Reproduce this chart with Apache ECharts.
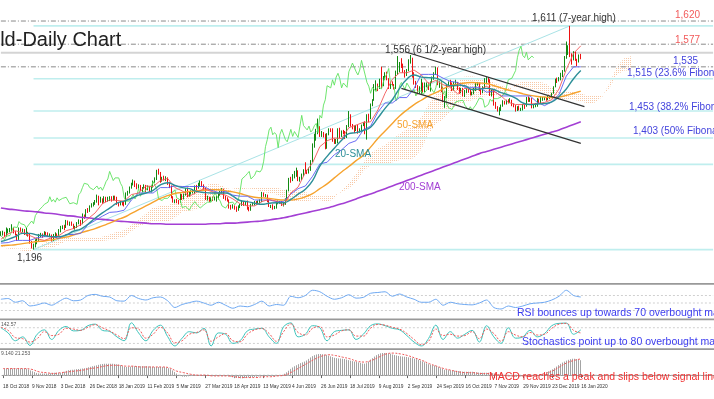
<!DOCTYPE html>
<html>
<head>
<meta charset="utf-8">
<script src="https://cdn.jsdelivr.net/npm/echarts@6/dist/echarts.min.js"></script>
<style>
  html, body { margin: 0; padding: 0; background: #fff; }
  #chart { width: 714px; height: 399px; }
</style>
</head>
<body>
<div id="chart"></div>
<script>
// bar 0 = 18 Oct 2018, bar 320 = 16 Jan 2020; extra slots on the right for the forward cloud
var categoryCount = 394;
var sampleStep = 4; // indicator lines every 4 bars

var tickBars = [0, 16, 32, 48, 64, 80, 96, 112, 128, 144, 160, 176, 192, 208, 224, 240, 256, 272, 288, 304, 320];
var tickLabels = ["18 Oct 2018", "9 Nov 2018", "3 Dec 2018", "26 Dec 2018", "18 Jan 2019", "11 Feb 2019",
  "5 Mar 2019", "27 Mar 2019", "18 Apr 2019", "13 May 2019", "4 Jun 2019", "26 Jun 2019", "18 Jul 2019",
  "9 Aug 2019", "2 Sep 2019", "24 Sep 2019", "16 Oct 2019", "7 Nov 2019", "29 Nov 2019", "23 Dec 2019", "16 Jan 2020"];

// daily candles [open, close, low, high]
var candles = [
  [1225,1226,1221,1230],[1226,1227,1222,1231],[1227,1221,1219,1229],[1221,1231,1220,1237],[1231,1232,1226,1235],
  [1232,1232,1228,1236],[1232,1235,1230,1243],[1235,1228,1226,1237],[1228,1223,1222,1230],[1223,1215,1212,1225],
  [1215,1233,1214,1237],[1233,1232,1229,1237],[1232,1232,1228,1235],[1232,1226,1223,1234],[1226,1227,1222,1236],
  [1227,1224,1220,1229],[1224,1210,1207,1225],[1210,1201,1198,1212],[1201,1202,1196,1207],[1202,1210,1200,1215],
  [1210,1214,1206,1218],[1214,1222,1212,1225],[1222,1223,1219,1227],[1223,1222,1218,1226],[1222,1227,1220,1230],
  [1227,1226,1223,1229],[1226,1222,1220,1228],[1222,1222,1219,1226],[1222,1214,1211,1224],[1214,1221,1212,1225],
  [1221,1224,1218,1228],[1224,1222,1218,1226],[1222,1231,1220,1234],[1231,1238,1228,1240],[1238,1238,1234,1241],
  [1238,1237,1232,1242],[1237,1248,1236,1251],[1248,1244,1241,1250],[1244,1245,1240,1248],[1245,1242,1240,1248],
  [1242,1236,1234,1244],[1236,1238,1233,1240],[1238,1245,1236,1247],[1245,1249,1243,1252],[1249,1244,1240,1251],
  [1244,1259,1243,1263],[1259,1257,1253,1261],[1257,1269,1255,1271],[1269,1268,1264,1273],[1268,1276,1266,1278],
  [1276,1280,1274,1282],[1280,1282,1276,1284],[1282,1284,1279,1288],[1284,1294,1283,1298],[1294,1285,1278,1296],
  [1285,1289,1283,1294],[1289,1284,1281,1291],[1284,1292,1283,1295],[1292,1287,1284,1294],[1287,1290,1285,1294],
  [1290,1291,1286,1295],[1291,1289,1285,1295],[1289,1293,1287,1296],[1293,1292,1288,1296],[1292,1281,1279,1294],
  [1281,1280,1276,1284],[1280,1283,1278,1286],[1283,1281,1278,1285],[1281,1280,1276,1285],[1280,1298,1279,1302],
  [1298,1302,1296,1305],[1302,1311,1300,1313],[1311,1319,1309,1320],[1319,1321,1315,1326],[1321,1317,1312,1324],
  [1317,1311,1308,1319],[1311,1314,1309,1317],[1314,1307,1305,1316],[1307,1310,1303,1312],[1310,1314,1308,1317],
  [1314,1308,1303,1316],[1308,1312,1306,1315],[1312,1306,1303,1314],[1306,1313,1302,1315],[1313,1322,1311,1324],
  [1322,1327,1320,1330],[1327,1341,1325,1344],[1341,1338,1335,1346],[1338,1324,1320,1340],[1324,1329,1322,1331],
  [1329,1328,1324,1333],[1328,1329,1323,1332],[1329,1319,1316,1330],[1319,1313,1310,1321],[1313,1293,1291,1315],
  [1293,1286,1283,1295],[1286,1287,1282,1289],[1287,1286,1282,1290],[1286,1285,1280,1288],[1285,1298,1283,1300],
  [1298,1290,1288,1299],[1290,1297,1289,1300],[1297,1309,1296,1310],[1309,1295,1293,1311],[1295,1302,1294,1304],
  [1302,1302,1298,1306],[1302,1306,1300,1308],[1306,1312,1299,1315],[1312,1311,1306,1316],[1311,1313,1309,1320],
  [1313,1322,1312,1324],[1322,1315,1312,1323],[1315,1309,1307,1317],[1309,1290,1288,1311],[1290,1292,1287,1296],
  [1292,1287,1284,1294],[1287,1291,1285,1293],[1291,1290,1286,1294],[1290,1291,1287,1294],[1291,1291,1285,1296],
  [1291,1298,1289,1301],[1298,1303,1296,1305],[1303,1307,1300,1310],[1307,1292,1290,1309],[1292,1290,1287,1296],
  [1290,1288,1285,1293],[1288,1274,1272,1289],[1274,1273,1270,1279],[1273,1276,1272,1280],[1276,1274,1270,1278],
  [1274,1269,1266,1276],[1269,1276,1268,1278],[1276,1279,1273,1281],[1279,1285,1277,1288],[1285,1280,1277,1286],
  [1280,1283,1278,1286],[1283,1273,1270,1287],[1273,1270,1267,1275],[1270,1279,1268,1281],[1279,1281,1277,1284],
  [1281,1284,1278,1286],[1284,1281,1279,1286],[1281,1284,1280,1287],[1284,1285,1281,1289],[1285,1301,1284,1303],
  [1301,1296,1294,1302],[1296,1297,1293,1299],[1297,1286,1284,1298],[1286,1277,1275,1288],[1277,1277,1273,1279],
  [1277,1273,1270,1280],[1273,1274,1271,1277],[1274,1283,1272,1286],[1283,1284,1280,1287],[1284,1284,1281,1286],
  [1284,1279,1277,1286],[1279,1280,1276,1283],[1280,1288,1279,1291],[1288,1305,1287,1307],[1305,1327,1304,1329],
  [1327,1325,1320,1331],[1325,1333,1323,1336],[1333,1337,1328,1342],[1337,1341,1331,1348],[1341,1327,1323,1343],
  [1327,1327,1322,1331],[1327,1334,1325,1337],[1334,1342,1332,1345],[1342,1341,1337,1358],[1341,1340,1336,1344],
  [1340,1345,1337,1348],[1345,1360,1342,1362],[1360,1387,1358,1393],[1387,1400,1385,1411],[1400,1418,1398,1420],
  [1418,1423,1410,1439],[1423,1409,1405,1425],[1409,1413,1405,1416],[1413,1409,1404,1414],[1409,1385,1382,1411],
  [1385,1410,1383,1412],[1410,1419,1408,1421],[1419,1418,1414,1421],[1418,1400,1396,1421],[1400,1396,1392,1402],
  [1396,1397,1392,1401],[1397,1419,1393,1421],[1419,1406,1403,1422],[1406,1415,1405,1417],[1415,1414,1410,1418],
  [1414,1404,1401,1416],[1404,1425,1403,1427],[1425,1445,1423,1453],[1445,1426,1424,1447],[1426,1424,1419,1429],
  [1424,1418,1412,1426],[1418,1425,1416,1427],[1425,1414,1411,1427],[1414,1418,1413,1421],[1418,1426,1416,1428],
  [1426,1430,1425,1432],[1430,1413,1410,1434],[1413,1445,1400,1447],[1445,1440,1432,1448],[1440,1464,1438,1467],
  [1464,1474,1462,1475],[1474,1500,1472,1503],[1500,1500,1491,1510],[1500,1496,1490,1504],[1496,1511,1494,1513],
  [1511,1501,1495,1535],[1501,1516,1499,1518],[1516,1523,1511,1525],[1523,1513,1510,1526],[1513,1496,1494,1514],
  [1496,1505,1494,1507],[1505,1502,1499,1508],[1502,1497,1493,1503],[1497,1526,1494,1528],[1526,1527,1520,1555],
  [1527,1542,1525,1544],[1542,1539,1533,1551],[1539,1526,1524,1541],[1526,1520,1515,1529],[1520,1529,1518,1531],
  [1529,1547,1527,1549],[1547,1549,1541,1557],[1549,1520,1515,1552],[1520,1506,1502,1525],[1506,1499,1496,1509],
  [1499,1486,1484,1501],[1486,1497,1485,1499],[1497,1499,1485,1513],[1499,1489,1487,1506],[1489,1499,1488,1506],
  [1499,1502,1497,1506],[1502,1494,1492,1506],[1494,1506,1489,1508],[1506,1516,1505,1517],[1516,1522,1511,1525],
  [1522,1532,1520,1535],[1532,1504,1501,1534],[1504,1505,1496,1508],[1505,1497,1488,1510],[1497,1472,1470,1498],
  [1472,1479,1459,1481],[1479,1500,1477,1502],[1500,1506,1498,1508],[1506,1504,1501,1511],[1504,1493,1490,1506],
  [1493,1505,1491,1507],[1505,1505,1499,1511],[1505,1494,1492,1507],[1494,1488,1485,1497],[1488,1493,1486,1496],
  [1493,1481,1480,1496],[1481,1490,1479,1492],[1490,1491,1486,1495],[1491,1490,1487,1494],[1490,1484,1482,1493],
  [1484,1487,1482,1489],[1487,1492,1484,1496],[1492,1504,1490,1505],[1504,1505,1500,1507],[1505,1492,1490,1506],
  [1492,1487,1483,1494],[1487,1496,1486,1499],[1496,1513,1494,1514],[1513,1514,1504,1516],[1514,1510,1506,1516],
  [1510,1484,1481,1512],[1484,1490,1480,1492],[1490,1466,1463,1493],[1466,1459,1457,1470],[1459,1456,1452,1462],
  [1456,1456,1445,1460],[1456,1463,1453,1465],[1463,1470,1461,1473],[1470,1468,1465,1472],[1468,1472,1465,1474],
  [1472,1471,1467,1475],[1471,1473,1468,1477],[1473,1464,1462,1474],[1464,1462,1460,1467],[1462,1455,1452,1464],
  [1455,1461,1453,1462],[1461,1455,1454,1463],[1455,1456,1453,1459],[1456,1464,1454,1466],[1464,1463,1457,1465],
  [1463,1477,1461,1479],[1477,1474,1470,1480],[1474,1475,1470,1478],[1475,1460,1458,1477],[1460,1462,1458,1465],
  [1462,1465,1460,1468],[1465,1475,1461,1477],[1475,1471,1466,1476],[1471,1476,1466,1480],[1476,1476,1472,1479],
  [1476,1476,1473,1479],[1476,1475,1472,1478],[1475,1479,1473,1481],[1479,1478,1475,1481],[1478,1486,1477,1487],
  [1486,1498,1485,1499],[1498,1511,1497,1513],[1511,1510,1505,1515],[1510,1514,1508,1516],[1514,1517,1510,1524],
  [1517,1528,1516,1529],[1528,1552,1526,1555],[1552,1566,1550,1582],[1566,1573,1557,1575],[1573,1556,1553,1611],
  [1556,1552,1539,1560],[1552,1562,1547,1564],[1562,1548,1546,1563],[1548,1545,1536,1550],[1545,1555,1543,1558],
  [1555,1552,1549,1559]
];

// moving averages, every 4 bars
var sma20 = [1211,1215,1220,1226,1226,1223,1222,1220,1220,1223,1230,1234,1243,1254,1264,1273,1282,1286,1291,1297,
  1301,1306,1316,1320,1315,1311,1309,1304,1302,1301,1301,1301,1295,1287,1285,1282,1280,1282,1283,1283,
  1289,1299,1308,1324,1351,1369,1384,1399,1411,1413,1417,1423,1440,1458,1474,1495,1512,1520,1516,1515,
  1514,1507,1500,1501,1500,1493,1494,1495,1493,1487,1483,1477,1468,1465,1466,1467,1470,1480,1494,1513,1528];
var sma50 = [1203,1204,1205,1207,1209,1211,1212,1214,1217,1219,1223,1227,1231,1235,1240,1245,1251,1256,1263,1270,
  1277,1284,1291,1296,1300,1302,1304,1305,1306,1307,1307,1305,1303,1300,1296,1293,1292,1291,1289,1288,
  1288,1290,1294,1300,1309,1318,1329,1340,1350,1361,1371,1386,1402,1416,1430,1444,1455,1465,1473,1481,
  1487,1494,1500,1503,1505,1506,1505,1504,1500,1496,1492,1489,1485,1482,1480,1479,1478,1479,1482,1486,1490];
var sma200 = [1273,1271,1270,1268,1267,1266,1264,1263,1261,1259,1258,1256,1255,1253,1252,1251,1249,1248,1247,1246,
  1245,1244,1244,1243,1243,1243,1243,1243,1243,1244,1244,1245,1245,1246,1247,1248,1249,1251,1253,1255,
  1258,1261,1264,1267,1270,1273,1277,1281,1285,1290,1295,1299,1304,1309,1314,1319,1324,1329,1334,1339,
  1344,1349,1354,1359,1364,1369,1374,1378,1382,1386,1390,1394,1398,1402,1406,1410,1414,1418,1423,1428,1433];

// Ichimoku, every 4 bars
var tenkan = [1215,1225,1231,1227,1222,1216,1213,1218,1222,1231,1235,1242,1253,1264,1281,1288,1287,1286,1298,1301,
  1314,1313,1324,1328,1311,1305,1295,1302,1309,1304,1300,1297,1290,1281,1277,1277,1285,1289,1286,1278,
  1301,1312,1339,1357,1387,1398,1403,1402,1422,1427,1432,1433,1455,1486,1512,1524,1524,1529,1520,1504,
  1510,1502,1497,1485,1495,1493,1493,1499,1490,1481,1469,1465,1465,1466,1467,1469,1474,1494,1530,1560,1574];
var kijun = [1208,1209,1213,1213,1213,1218,1220,1220,1217,1224,1224,1226,1242,1250,1258,1265,1266,1269,1288,1301,
  1301,1301,1311,1311,1314,1313,1313,1313,1313,1306,1302,1304,1297,1295,1295,1288,1288,1288,1285,1285,
  1299,1309,1314,1332,1355,1358,1372,1381,1393,1398,1418,1425,1451,1468,1468,1478,1478,1495,1521,1521,
  1521,1514,1508,1506,1497,1497,1497,1488,1490,1481,1481,1481,1481,1481,1469,1463,1470,1484,1518,1535,1535];
// cloud edges as drawn (already shifted 26 bars forward), bars 0..348
var spanA = [1200,1198,1196,1194,1192,1200,1208,1214,1220,1221,1219,1217,1217,1218,1220,1224,1229,1232,1241,1252,
  1263,1274,1277,1277,1285,1297,1305,1307,1313,1319,1317,1311,1306,1306,1310,1308,1303,1301,1298,1291,
  1287,1285,1285,1288,1288,1284,1291,1306,1319,1336,1358,1375,1383,1390,1400,1411,1419,1427,1441,1465,
  1484,1496,1501,1507,1517,1517,1515,1512,1506,1500,1496,1496,1495,1495,1492,1486,1478,1474,1473,1474,
  1471,1467,1469,1480,1506,1536,1551,1555];
var spanB = [1203,1200,1198,1198,1198,1198,1198,1199,1205,1212,1212,1212,1212,1212,1212,1214,1216,1220,1230,1239,
  1245,1247,1247,1247,1255,1266,1268,1270,1282,1290,1292,1299,1309,1312,1311,1311,1311,1312,1311,1307,
  1306,1306,1303,1297,1295,1295,1297,1303,1310,1321,1342,1353,1353,1353,1358,1362,1362,1366,1382,1411,
  1429,1438,1452,1464,1470,1473,1477,1482,1482,1479,1489,1503,1508,1508,1508,1505,1496,1490,1490,1490,
  1486,1481,1481,1481,1497,1521,1528,1528];
var chikouShift = 26;

// oscillators, every 4 bars
var rsi = [60,62,52,56,42,45,50,44,54,63,56,58,70,73,68,66,56,55,70,62,
  58,64,66,56,38,46,51,55,50,44,52,44,36,42,40,46,55,42,46,44,
  68,64,70,84,80,68,60,64,72,63,65,76,78,80,68,74,66,60,52,52,
  60,44,52,48,46,45,50,58,38,34,42,38,42,48,50,52,58,68,84,70,66];
var stochK = [80,60,30,45,12,55,72,35,70,85,68,70,88,94,70,66,45,30,99,60,
  30,70,90,46,10,40,65,60,78,10,60,55,20,30,68,75,78,45,20,84,
  99,45,55,88,80,30,65,70,72,35,55,88,95,88,78,72,50,25,10,39,
  90,35,65,40,55,70,25,88,45,20,80,40,45,70,45,58,88,97,98,55,72];
var stochD = [82,70,42,38,25,38,65,50,55,78,75,70,82,92,80,68,52,38,80,75,
  40,55,82,60,22,30,55,62,72,28,45,58,30,26,55,72,77,58,28,65,
  95,62,52,78,85,45,52,68,72,48,48,78,93,90,82,75,58,35,15,28,
  75,50,55,48,50,65,38,75,58,28,65,52,45,62,52,55,78,94,97,70,60];
var macd = [8,8,8,8,5,2,2,3,3,6,7,8,10,12,14,14,13,10,11,11,
  11,10,10,8,2,-2,-1,0,0,-1,-1,-1,-3,-4,-3,-2,-1,-1,-1,2,
  9,14,18,24,26,24,21,20,18,16,14,20,26,27,25,23,22,20,17,13,
  11,7,6,5,4,4,3,3,2,-1,-1,-2,-1,-1,0,3,7,13,18,20,18];
var macdSignal = [8,8,8,8,7,4,3,2,3,4,5,6,8,9,11,12,12,11,11,10,
  10,10,10,9,5,3,1,0,0,-1,-1,-1,-2,-3,-3,-3,-2,-2,-1,0,
  4,9,14,19,23,25,24,22,20,17,16,18,22,26,27,26,24,21,18,14,
  11,8,6,4,3,3,2,2,1,0,-1,-1,-1,-1,0,2,5,10,15,18,20];

// drawn levels and trend lines
var dashLevels = [1620, 1577, 1535];
var priceLevel = 1561;
var fiboLevels = [1611, 1513, 1453, 1403, 1354, 1196];
var fiboStartBar = 18;
var fiboDiagonal = [[18, 1196], [314, 1611]];
var channelUpper = [[223, 1563], [322, 1461]];
var channelLower = [[221, 1495], [320, 1393]];
var rsiLevels = [70, 50, 30];
var stochLevels = [80, 20];

var FONT = "Liberation Sans, Arial, sans-serif";

function sampled(arr) {
  return arr.map(function (v, i) { return [i * sampleStep, v]; });
}
function makePattern(w, h, color, dots) {
  var c = document.createElement("canvas");
  c.width = w; c.height = h;
  var ctx = c.getContext("2d");
  ctx.fillStyle = color;
  dots.forEach(function (d) { ctx.fillRect(d[0], d[1], d[2], d[3]); });
  return c;
}

var cloudDots = makePattern(2, 2, "#f7c8a6", [[0, 0, 1, 1]]);
var macdStripes = makePattern(2, 1, "#a4a4a4", [[0, 0, 1, 1]]);

var categories = [];
for (var i = 0; i < categoryCount; i++) categories.push(String(i));
var labelMap = {};
tickBars.forEach(function (b, k) { labelMap[b] = tickLabels[k]; });

function xAxisFor(gridIndex, showLabels) {
  return {
    type: "category", gridIndex: gridIndex, data: categories, boundaryGap: true,
    axisLine: { show: showLabels, lineStyle: { color: "#9a9a9a", width: 1 } },
    axisTick: {
      show: showLabels, alignWithLabel: true, length: 3, lineStyle: { color: "#666" },
      interval: function (idx) { return labelMap[idx] !== undefined; }
    },
    axisLabel: {
      show: showLabels, align: "left", fontSize: 4.8, color: "#333", margin: 4, fontFamily: FONT,
      interval: function (idx) { return labelMap[idx] !== undefined; },
      formatter: function (v) { return labelMap[v] || ""; }
    },
    splitLine: { show: false }
  };
}
function yAxisFor(gridIndex, min, max) {
  return { type: "value", gridIndex: gridIndex, min: min, max: max, show: false, splitLine: { show: false } };
}
function straight(name, points, color, width, type, xi, yi, z) {
  return {
    name: name, type: "line", xAxisIndex: xi, yAxisIndex: yi, data: points, symbol: "none", silent: true,
    lineStyle: { color: color, width: width, type: type || "solid" }, z: z || 2, animation: false
  };
}
function curve(name, data, color, width, xi, yi, extra) {
  var s = {
    name: name, type: "line", xAxisIndex: xi, yAxisIndex: yi, data: data, symbol: "none", silent: true,
    lineStyle: { color: color, width: width }, z: 4
  };
  for (var k in extra) s[k] = extra[k];
  return s;
}

var series = [];

// Ichimoku cloud
series.push({
  type: "custom", xAxisIndex: 0, yAxisIndex: 0, silent: true, z: 1,
  data: [[0, spanA[0]]],
  renderItem: function (params, api) {
    var pts = [];
    spanA.forEach(function (v, i) { pts.push(api.coord([i * sampleStep, v])); });
    for (var i = spanB.length - 1; i >= 0; i--) pts.push(api.coord([i * sampleStep, spanB[i]]));
    return { type: "polygon", shape: { points: pts }, style: { fill: { image: cloudDots, repeat: "repeat" }, stroke: null } };
  }
});

// horizontal levels
fiboLevels.forEach(function (v) {
  series.push(straight("fibo", [[fiboStartBar, v], [categoryCount - 1, v]], "#bfeeee", 1.6, "solid", 0, 0, 1));
});
dashLevels.forEach(function (v) {
  series.push(straight("level", [[0, v], [categoryCount - 1, v]], "#8a8a8a", 1, [5, 2, 1, 2], 0, 0, 1));
});
series.push(straight("price", [[0, priceLevel], [categoryCount - 1, priceLevel]], "#d4d4d4", 2, "solid", 0, 0, 1));
series.push(straight("fiboDiag", fiboDiagonal, "#a9e3e6", 1, "solid", 0, 0, 1));

// candles
series.push({
  name: "Gold", type: "candlestick", xAxisIndex: 0, yAxisIndex: 0, data: candles, barWidth: 1.2, silent: true, z: 3,
  itemStyle: { color: "#128a12", color0: "#ee1111", borderColor: "#128a12", borderColor0: "#ee1111", borderWidth: 1 }
});

// chikou span: the closes drawn 26 bars back
var chikou = [];
candles.forEach(function (c, i) { if (i >= chikouShift) chikou.push([i - chikouShift, c[1]]); });
series.push(curve("chikou", chikou, "#5ee25e", 0.9, 0, 0));

series.push(curve("200-SMA", sampled(sma200), "#a33fd4", 1.6, 0, 0, { smooth: true }));
series.push(curve("50-SMA", sampled(sma50), "#f6a32e", 1.4, 0, 0, { smooth: true }));
series.push(curve("kijun", sampled(kijun), "#5a5cf2", 0.9, 0, 0));
series.push(curve("tenkan", sampled(tenkan), "#f25858", 0.9, 0, 0));
series.push(curve("20-SMA", sampled(sma20), "#2d8f98", 1.4, 0, 0, { smooth: true }));

series.push(straight("channelUp", channelUpper, "#333", 1.3, "solid", 0, 0, 5));
series.push(straight("channelDown", channelLower, "#333", 1.3, "solid", 0, 0, 5));

// RSI panel
rsiLevels.forEach(function (v) {
  series.push(straight("rsiLevel", [[0, v], [categoryCount - 1, v]], "#c4c4c4", 0.8, [2, 2], 1, 1, 1));
});
series.push(curve("RSI", sampled(rsi), "#6fa9f2", 1, 1, 1, { smooth: 0.3 }));

// Stochastics panel
stochLevels.forEach(function (v) {
  series.push(straight("stochLevel", [[0, v], [categoryCount - 1, v]], "#c4c4c4", 0.8, [2, 2], 2, 2, 1));
});
series.push(curve("%K", sampled(stochK), "#3cc3bb", 1, 2, 2, { smooth: 0.4 }));
series.push(curve("%D", sampled(stochD), "#f05a5a", 1, 2, 2, { smooth: 0.4, lineStyle: { color: "#f05a5a", width: 1, type: [2, 1.5] } }));

// MACD panel
series.push(straight("macdZero", [[0, 0], [categoryCount - 1, 0]], "#c4c4c4", 0.8, [2, 2], 3, 3, 1));
series.push(curve("MACD", sampled(macd), "#b0b0b0", 0, 3, 3, {
  smooth: 0.4, areaStyle: { color: { image: macdStripes, repeat: "repeat" }, opacity: 1 }
}));
series.push(curve("Signal", sampled(macdSignal), "#f05a5a", 1, 3, 3, { smooth: 0.4, lineStyle: { color: "#f05a5a", width: 1, type: [2, 1.5] } }));

function txt(text, x, y, color, size, extra) {
  var t = { type: "text", x: x, y: y, silent: true, z: 50,
    style: { text: text, fill: color, fontSize: size, fontFamily: FONT, verticalAlign: "middle", align: "left" } };
  for (var k in extra) t.style[k] = extra[k];
  return t;
}
function bar(y, h) {
  return { type: "rect", shape: { x: 0, y: y, width: 714, height: h }, style: { fill: "#999" }, silent: true, z: 40 };
}

var graphics = [
  bar(283, 1.8), bar(318.5, 1.8), bar(348.3, 1.8),
  txt("Gold-Daily Chart", -26.5, 40.5, "#222", 20),
  txt("1,620", 675, 15.5, "#f25a5a", 10),
  txt("1,611 (7-year high)", 532, 18.5, "#333", 10),
  txt("1,577", 675, 40.5, "#f25a5a", 10),
  txt("1,556 (6 1/2-year high)", 385, 50, "#333", 10),
  txt("1,535", 673, 61.5, "#4444dd", 10),
  txt("1,515 (23.6% Fibonacci)", 627, 73.5, "#4444dd", 10),
  txt("1,453 (38.2% Fibonacci)", 629, 107.5, "#4444dd", 10),
  txt("1,403 (50% Fibonacci)", 633, 131.5, "#4444dd", 10),
  txt("50-SMA", 397, 125, "#f6a32e", 10),
  txt("20-SMA", 335, 154, "#2d8f98", 10),
  txt("200-SMA", 399, 187, "#a33fd4", 10),
  txt("1,196", 17, 258, "#333", 10),
  txt("RSI bounces up towards 70 overbought mark", 517, 313.5, "#3c3cf0", 10.5),
  txt("Stochastics point up to 80 overbought mark", 522, 342.5, "#3c3cf0", 10.5),
  txt("MACD reaches a peak and slips below signal line", 489, 377.5, "#f03030", 10.5),
  txt("142.57", 1, 324.5, "#555", 5),
  txt("9.140 21.253", 1, 354, "#555", 5)
];

var option = {
  animation: false,
  backgroundColor: "#fff",
  textStyle: { fontFamily: FONT },
  grid: [
    { left: -5, width: 720, top: 0, height: 283 },
    { left: -5, width: 720, top: 285, height: 33 },
    { left: -5, width: 720, top: 320, height: 28 },
    { left: -5, width: 720, top: 350, height: 30 }
  ],
  xAxis: [xAxisFor(0, false), xAxisFor(1, false), xAxisFor(2, false), xAxisFor(3, true)],
  yAxis: [yAxisFor(0, 1134, 1659), yAxisFor(1, 10, 98), yAxisFor(2, 2, 110), yAxisFor(3, -6, 30.8)],
  series: series,
  graphic: graphics
};

var myChart = echarts.init(document.getElementById("chart"), null, { renderer: "canvas" });
myChart.setOption(option);
</script>
</body>
</html>
